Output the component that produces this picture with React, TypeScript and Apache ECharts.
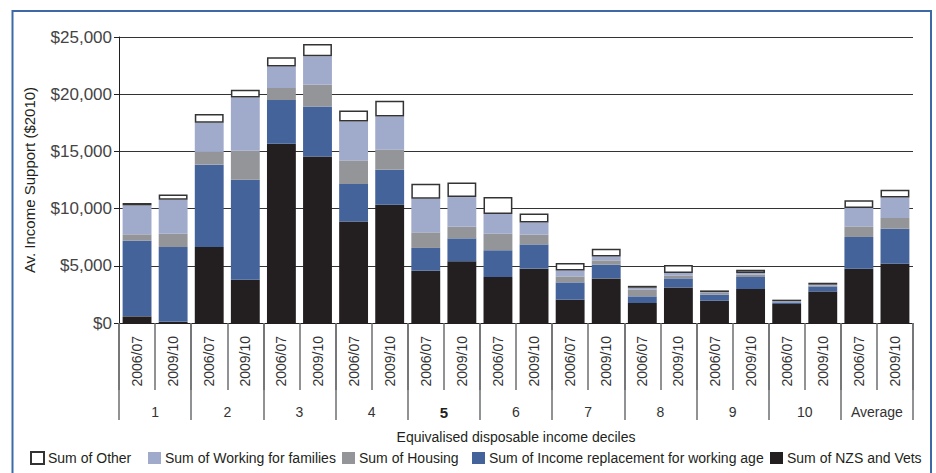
import React, { useEffect, useRef } from "react";
import * as echarts from "echarts";

const groups = ["1", "2", "3", "4", "5", "6", "7", "8", "9", "10", "Average"];
const years = ["2006/07", "2009/10"];
const categories = groups.flatMap(() => years);

const nzs = [580, 100, 6640, 3790, 15670, 14560, 8880, 10340, 4570, 5390, 4020, 4750, 2040, 3900, 1750, 3110, 1950, 2970, 1660, 2760, 4750, 5180];
const incomeReplacement = [6610, 6540, 7200, 8740, 3820, 4370, 3270, 3060, 1990, 2010, 2330, 2120, 1510, 1200, 580, 790, 520, 1050, 140, 440, 2770, 3060];
const housing = [560, 1160, 1110, 2530, 1050, 1900, 2060, 1750, 1360, 1020, 1460, 850, 520, 370, 600, 230, 150, 200, 50, 90, 920, 940];
const workingForFamilies = [2530, 2980, 2560, 4660, 1890, 2480, 3410, 2910, 2950, 2590, 1720, 1070, 530, 350, 150, 240, 90, 150, 50, 60, 1610, 1800];
const other = [210, 460, 760, 670, 790, 1080, 960, 1370, 1310, 1280, 1480, 790, 640, 670, 170, 700, 140, 290, 140, 170, 670, 670];

const FONT = "Liberation Sans";
const TEXT = "#231f20";

export default function App() {
  const ref = useRef<HTMLDivElement>(null);
  useEffect(() => {
    if (!ref.current) return;
    const chart = echarts.init(ref.current, null, { renderer: "svg" });
    const legendDefs: [string, number][] = [
      ["Sum of Other", 30],
      ["Sum of Working for families", 148],
      ["Sum of Housing", 342],
      ["Sum of Income replacement for working age", 472],
      ["Sum of NZS and Vets", 770],
    ];
    const mk = (name: string, data: number[], color: string, extra: any = {}) => ({
      name,
      type: "bar",
      stack: "s",
      data,
      xAxisIndex: 0,
      barCategoryGap: "20%",
      itemStyle: { color, ...extra },
      emphasis: { disabled: true },
    });
    chart.setOption({
      animation: false,
      textStyle: { fontFamily: FONT },
      grid: { left: 119, right: 23, top: 37, height: 286 },
      graphic: [
        {
          type: "rect",
          shape: { x: 12.5, y: 11, width: 918.5, height: 540 },
          style: { fill: "none", stroke: "#3d6aa6", lineWidth: 2 },
          silent: true,
        },
      ],
      legend: legendDefs.map(([n, x]) => ({
        data: [n],
        left: x,
        top: 451,
        itemWidth: 13,
        itemHeight: 12,
        icon: "rect",
        padding: 0,
        selectedMode: false,
        textStyle: { fontSize: 14, color: TEXT, fontFamily: FONT, padding: [0, 0, 0, -1] },
      })),
      xAxis: [
        {
          type: "category",
          data: categories,
          position: "bottom",
          axisLine: { show: true, lineStyle: { color: TEXT, width: 1 } },
          axisTick: { show: true, interval: 0, length: 67, lineStyle: { color: "#6d6e71", width: 1.5 } },
          axisLabel: { interval: 0, rotate: 90, margin: 13, fontSize: 14, color: "#333", fontFamily: FONT },
        },
        {
          type: "category",
          data: groups,
          position: "bottom",
          axisLine: { show: false },
          axisTick: { show: true, interval: 0, length: 97, lineStyle: { color: "#6d6e71", width: 1.5 } },
          axisLabel: {
            interval: 0,
            margin: 82,
            fontSize: 14,
            color: "#333",
            fontFamily: FONT,
            formatter: (v: string) => (v === "5" ? "{b|5}" : v),
            rich: { b: { fontWeight: "bold", fontSize: 15, color: TEXT, fontFamily: FONT } },
          },
          name: "Equivalised disposable income deciles",
          nameLocation: "middle",
          nameGap: 107,
          nameTextStyle: { fontSize: 14, color: TEXT, fontFamily: FONT },
        },
      ],
      yAxis: {
        type: "value",
        min: 0,
        max: 25000,
        interval: 5000,
        axisLine: { show: true, lineStyle: { color: TEXT, width: 1 } },
        axisTick: { show: true, length: 5, lineStyle: { color: TEXT } },
        splitLine: { show: true, lineStyle: { color: "#333", width: 1 } },
        axisLabel: {
          fontSize: 17,
          color: "#444",
          margin: 7,
          fontFamily: FONT,
          formatter: (v: number) => "$" + v.toLocaleString("en-US"),
        },
        name: "Av. Income Support ($2010)",
        nameLocation: "middle",
        nameRotate: 90,
        nameGap: 82,
        nameTextStyle: { fontSize: 15, color: TEXT, fontFamily: FONT },
      },
      series: [
        mk("Sum of NZS and Vets", nzs, "#231f20"),
        mk("Sum of Income replacement for working age", incomeReplacement, "#44639a"),
        mk("Sum of Housing", housing, "#939598"),
        mk("Sum of Working for families", workingForFamilies, "#a0aacb"),
        mk("Sum of Other", other, "#ffffff", { borderColor: "#333", borderWidth: 1.5 }),
      ],
    });
    return () => chart.dispose();
  }, []);
  return (
    <div
      ref={ref}
      style={{ position: "absolute", left: 0, top: 0, width: 936, height: 473, background: "#fff" }}
    />
  );
}
